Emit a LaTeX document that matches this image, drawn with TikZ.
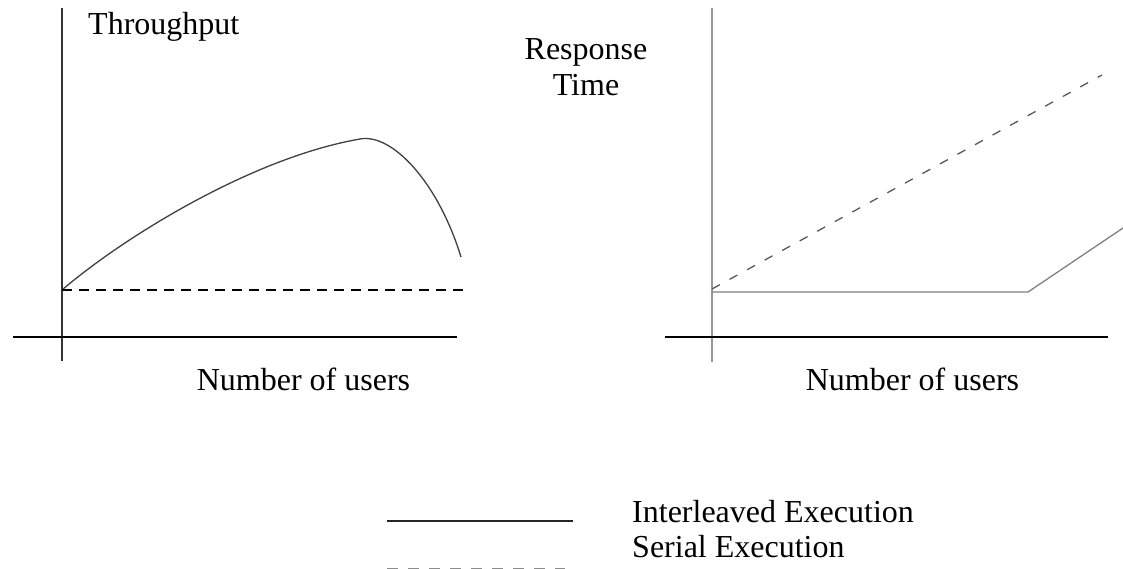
\documentclass[tikz,border=0pt]{standalone}
\usepackage{fontspec}
\setmainfont{Liberation Serif}
\begin{document}
\begin{tikzpicture}[x=1pt,y=-1pt,
  lbl/.style={inner sep=0pt, font=\fontsize{32}{36}\selectfont},
  axisline/.style={line width=1.6pt, line cap=butt},
  solidcurve/.style={line width=1.3pt, draw=black!75},
  serial/.style={line width=1.3pt, dash pattern=on 10pt off 7pt},
  serialslope/.style={line width=1.3pt, draw=black!65, dash pattern=on 9pt off 11pt},
  interleaved/.style={line width=1.3pt, draw=black!50}]
\useasboundingbox (0,0) rectangle (1123,569);

% ---- throughput plot ----
\coordinate (ty0) at (62,8);
\coordinate (ty1) at (62,361);
\coordinate (tx0) at (13,337);
\coordinate (tx1) at (457,337);
\draw[axisline, draw=black!80] (ty0) -- (ty1);
\draw[axisline] (tx0) -- (tx1);
\coordinate (tstart) at (62,290);
\coordinate (tpeak) at (360,139);
\coordinate (tend) at (461,257);
\coordinate (tflat) at (466,290);
\draw[solidcurve] (tstart) .. controls (120,240) and (250,158) .. (tpeak)
  .. controls (392,133) and (438,182) .. (tend);
\draw[serial] (tstart) -- (tflat);
\node[lbl, anchor=base west] (tlabel) at (88,35) {Throughput};
\node[lbl, anchor=base] (txlabel) at (303.5,390) {Number of users};

% ---- response time plot ----
\coordinate (ry0) at (712,8);
\coordinate (ry1) at (712,362);
\coordinate (rx0) at (665,337);
\coordinate (rx1) at (1108,337);
\draw[axisline, draw=black!40] (ry0) -- (ry1);
\draw[axisline] (rx0) -- (rx1);
\coordinate (rs0) at (712,289);
\coordinate (rs1) at (1102,75);
\draw[serialslope] (rs0) -- (rs1);
\coordinate (ri0) at (712,292);
\coordinate (rknee) at (1028,292);
\coordinate (ri1) at (1123,228);
\draw[interleaved] (ri0) -- (rknee) -- (ri1);
\node[lbl, anchor=north, align=center] (rlabel) at (586,38) {Response\\Time};
\node[lbl, anchor=base] (rxlabel) at (912.5,390) {Number of users};

% ---- legend ----
\coordinate (li0) at (387,521);
\coordinate (li1) at (573,521);
\draw[line width=2pt, draw=black!85] (li0) -- (li1);
\coordinate (ls0) at (387,569);
\coordinate (ls1) at (565,569);
\draw[line width=2pt, draw=black!45, dash pattern=on 11pt off 10pt] (ls0) -- (ls1);
\node[lbl, anchor=base west] (lint) at (632,522) {Interleaved Execution};
\node[lbl, anchor=base west] (lser) at (632,557) {Serial Execution};
\end{tikzpicture}
\end{document}
